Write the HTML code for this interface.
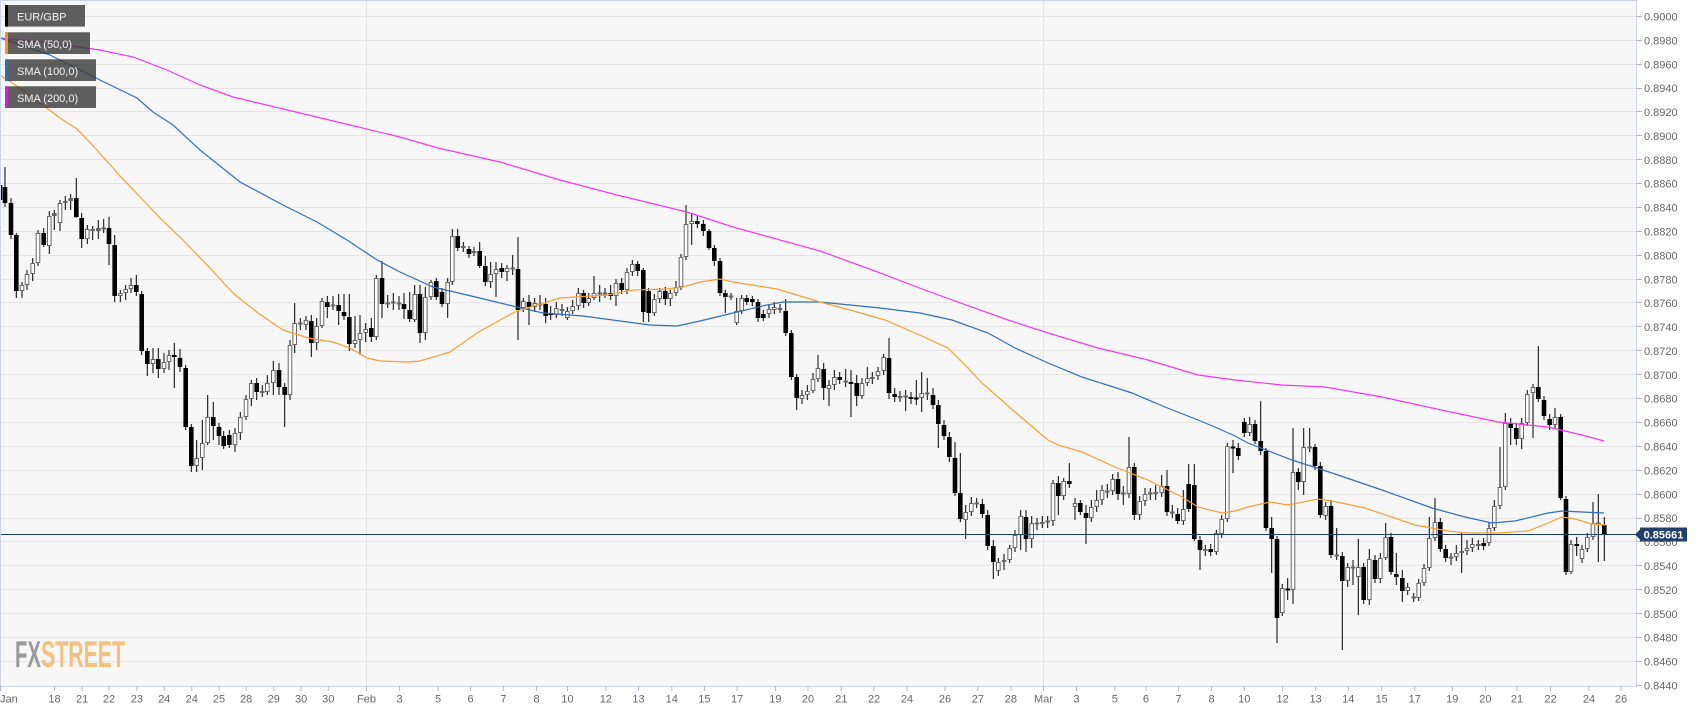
<!DOCTYPE html>
<html><head><meta charset="utf-8"><style>
html,body{margin:0;padding:0;background:#fff;}
svg{display:block;font-family:"Liberation Sans",Arial,sans-serif;}
</style></head><body>
<svg width="1707" height="712" viewBox="0 0 1707 712" xmlns="http://www.w3.org/2000/svg">
<defs><clipPath id="pc"><rect x="0" y="0" width="1636" height="686"/></clipPath></defs>
<rect x="0" y="0" width="1707" height="712" fill="#fff"/>
<rect x="0" y="0" width="1636" height="686" fill="#f7f7f7"/>
<path stroke="#e4e4e4" stroke-width="1" fill="none" d="M0 16.5H1636M0 40.5H1636M0 64.5H1636M0 88.5H1636M0 111.5H1636M0 135.5H1636M0 159.5H1636M0 183.5H1636M0 207.5H1636M0 231.5H1636M0 255.5H1636M0 279.5H1636M0 302.5H1636M0 326.5H1636M0 350.5H1636M0 374.5H1636M0 398.5H1636M0 422.5H1636M0 446.5H1636M0 470.5H1636M0 494.5H1636M0 518.5H1636M0 541.5H1636M0 565.5H1636M0 589.5H1636M0 613.5H1636M0 637.5H1636M0 661.5H1636M366.5 0V686M1043.5 0V686"/>
<text x="15" y="667" font-size="37" font-weight="bold" font-family="'Liberation Sans Narrow','Liberation Sans',sans-serif" textLength="26" lengthAdjust="spacingAndGlyphs" fill="#9a9a9a">FX</text>
<text x="41" y="667" font-size="37" font-weight="bold" font-family="'Liberation Sans Narrow','Liberation Sans',sans-serif" textLength="84" lengthAdjust="spacingAndGlyphs" fill="#f2c17f">STREET</text>
<g clip-path="url(#pc)">
<path stroke="#000" stroke-width="1" fill="none" d="M0 180V205M5 167V207M11 198V239M16.3 233V298M22 282V298M27 270V290M32.7 258V281M38 230V266M43.7 228V247M49.3 211V254M54.3 210V230M60 200V231M65.3 196V210M70.7 194V210M76.3 178V218M81.7 213V248M87.3 225V244M92.7 226V240M98.3 220V239M103.7 219V233M109 217V265M114.7 235V302M120.3 290V302M125.7 285V300M131 278V293M136.3 275V296M141.7 291V355M147.3 348V376M153 348V373M158.3 348V378M164 353V373M169 350V370M174.3 343V388M180 349V372M185.7 365V430M191.3 424V472M196.7 440V472M202.3 420V470M207.7 395V445M213.3 402V440M219 423V445M223.7 431V449M229.3 430V448M235 428V452M240.3 412V440M246 395V420M251.3 380V406M256.7 378V400M262.3 385V397M267.3 375V395M273.3 361V395M279 363V395M284.7 383V427M290 340V400M294.7 303V353M300.3 318V330M306 316V330M311.3 315V357M316.7 318V350M322 298V328M327.3 296V318M333 296V310M338.7 294V325M344 294V320M349.3 294V351M355 316V348M360 315V355M365.7 323V342M371.3 318V342M376.3 275V340M382 261V318M387.7 295V308M393.3 293V310M399 296V310M404 293V319M409.7 292V322M414.7 285V322M420 285V343M425.3 287V340M431 280V300M436.3 278V300M442 288V307M447.7 278V318M452.3 229V285M457.7 229V251M463.3 242V252M469 246V258M474 247V256M479.7 242V268M485.3 256V286M490.7 262V288M496 262V297M501.7 263V278M507 265V281M512.7 255V275M518 237V340M523.3 298V312M529 295V325M534.7 298V312M540 295V310M545.7 298V323M550.7 306V320M556.3 302V318M562 304V316M567.3 307V320M572.7 300V314M578.3 288V310M583.7 290V308M588.7 293V306M594 276V300M599.7 285V302M605 288V298M610.7 285V300M616 279V306M621.7 278V294M627 268V294M632.3 260V276M637.7 261V276M643.3 268V322M648.7 288V322M654.3 294V316M659.7 288V303M665.3 287V305M670.3 290V306M676 281V296M681 254V290M686 205V260M691.7 214V245M697.3 215V228M703.3 220V236M709 229V250M714.3 245V266M720 258V296M725.3 290V313M731 293V300M736.7 298V325M741.7 295V314M746.7 295V305M752.3 296V306M758 299V322M763.3 310V321M769 305V318M774.3 302V314M780 304V313M785.7 299V336M791.3 330V380M796.7 374V410M802 390V404M807.3 385V400M813 373V393M818 355V382M823.7 363V400M829 380V406M834.3 370V390M839.7 372V384M845.7 369V387M851 370V417M856.7 375V406M862 378V399M867.3 367V386M872.3 372V384M878 367V380M883.7 354V375M889 338V399M894.7 388V402M900 391V402M905.7 390V411M911 392V404M916.3 380V405M921.7 372V412M927.3 378V400M933 388V409M938.3 400V448M944 420V440M949.3 432V462M955 442V496M960.3 453V522M965.7 505V539M971.3 497V516M976.7 498V508M982.3 499V518M987.7 510V550M993.3 540V579M998.3 558V576M1004 554V570M1009.7 545V563M1015 530V552M1020.7 510V550M1026 510V552M1031.7 516V548M1037 518V530M1042.3 516V528M1047.7 516V528M1053 480V526M1058.3 476V515M1063.7 478V500M1069.3 463V488M1075 498V520M1080.3 500V515M1086 505V544M1091.3 500V522M1096.7 490V512M1102 485V505M1107.3 484V498M1112.7 474V495M1118 472V500M1123.3 486V505M1129 437V498M1134.3 463V520M1139.7 496V520M1145 488V506M1150.3 488V500M1155.7 485V500M1161.7 475V497M1167 470V516M1172.3 505V518M1177.7 508V524M1183.3 490V525M1188.7 464V512M1194.3 464V541M1200 536V570M1205.3 545V556M1210.7 544V556M1216.3 530V555M1221.7 515V538M1227.3 443V522M1233 440V473M1238.3 443V460M1244.3 418V437M1249.7 417V436M1255 420V444M1260.7 401V455M1266 448V531M1271.7 517V573M1277 536V643M1282.3 584V616M1287.7 578V600M1293 428V604M1298.3 468V490M1303.7 428V495M1309.7 428V452M1315 444V470M1320.3 462V518M1325.7 502V520M1331 500V558M1336.7 528V560M1342.3 552V650M1347.7 563V587M1353 560V585M1358.3 539V615M1363.7 563V604M1369.3 549V605M1375 555V583M1380.3 553V583M1385.7 523V560M1391 533V575M1396.3 553V585M1402.3 570V602M1407.7 583V595M1413.7 593V602M1418.7 579V601M1424 564V586M1429.3 517V571M1435 498V541M1440.3 518V552M1445.7 545V562M1451 553V565M1456.3 545V561M1461.7 533V573M1467 540V555M1472.3 538V552M1478.3 540V550M1483.7 538V550M1489 522V546M1494.3 500V531M1500 447V509M1505.3 413V490M1510.7 418V445M1516.3 423V445M1521.7 418V449M1527.3 390V426M1533 384V438M1538.3 346V402M1544 396V420M1549.7 414V430M1555 408V428M1560.7 414V500M1566 496V575M1571 540V574M1576.7 537V556M1582 545V563M1587.3 533V552M1593 502V540M1598.3 494V562M1604.3 517V561"/>
<path stroke="#000" stroke-width="4.6" fill="none" d="M0 185V200M5 187V203M11 203V235M16.3 235V291M43.7 233V245M76.3 198V217M81.7 218V239M109 228V244M114.7 245V296M136.3 285V292M141.7 294V351M147.3 351V364M158.3 359V369M174.3 355V357M180 358V367M185.7 368V427M191.3 427V466M213.3 417V426M219 427V436M223.7 436V446M229.3 435V445M256.7 383V392M279 370V387M284.7 387V395M311.3 321V343M327.3 302V307M338.7 305V311M344 312V316M349.3 317V344M371.3 328V337M382 278V304M404 304V309M409.7 310V319M420 294V333M436.3 281V297M442 292V304M457.7 236V248M469 249V254M479.7 251V266M485.3 266V282M501.7 268V272M518 269V310M529 302V307M545.7 304V316M550.7 313V315M583.7 293V303M610.7 293V296M621.7 283V290M637.7 264V271M643.3 270V312M648.7 291V313M665.3 291V299M697.3 221V224M703.3 224V231M709 231V248M714.3 248V261M720 261V293M725.3 293V297M746.7 298V302M752.3 299V302M758 302V318M763.3 314V318M785.7 311V333M791.3 333V377M796.7 377V398M823.7 369V388M839.7 377V380M851 382V384M856.7 383V396M889 358V393M894.7 394V397M911 397V399M916.3 397.5V399.5M933 395V405M938.3 405V424M944 425V436M949.3 437V457M955 458V493M960.3 493V519M982.3 504V514M987.7 515V546M993.3 546V562M1026 517V539M1058.3 483V496M1069.3 481V484M1080.3 503V512M1086 513V518M1118 479V494M1134.3 467V515M1167 486V512M1177.7 514V521M1188.7 484V509M1194.3 485V539M1200 540V550M1210.7 549V552M1233 446.5V448.5M1238.3 448V456M1244.3 422V433M1255 424V441M1260.7 441V451M1266 451V528M1271.7 528V539M1277 539V618M1287.7 588.5V590.5M1298.3 472V482M1315 447V466M1320.3 466V515M1331 506V555M1342.3 556V581M1363.7 567V600M1375 560V579M1391 537V572M1396.3 574V577M1402.3 578V591M1440.3 522V549M1445.7 549V558M1483.7 543V546M1510.7 423V428M1516.3 428V439M1538.3 387V399M1544 400V416M1549.7 419V425M1560.7 417V498M1566 499V572M1576.7 544V546M1604.3 525V534"/>
<path stroke="#666" stroke-width="4.6" fill="none" d="M22 285V291M27 274V285M32.7 263V274M38 233V263M49.3 216V246M54.3 213V216M60 203V223M65.3 201V203M70.7 198V201M87.3 229V239M92.7 229V231M98.3 228V231M103.7 227.5V229.5M120.3 293V296M125.7 289V293M131 285V289M153 359V364M164 362V369M169 355V362M196.7 458V466M202.3 443V458M207.7 417V443M235 433V445M240.3 417V433M246 399V417M251.3 383V399M262.3 391V393M267.3 383V392M273.3 370V383M290 345V395M294.7 323V345M300.3 322.5V324.5M306 320V325M316.7 326V343M322 301V326M333 304.5V306.5M355 340V344M360 333V340M365.7 329V333M376.3 278V337M387.7 302.5V304.5M393.3 301.5V303.5M399 302.5V304.5M414.7 294V320M425.3 297V333M431 282V297M447.7 282V304M452.3 236V282M463.3 246V248M474 251V253M490.7 274V282M496 269V274M507 268V272M512.7 267.5V269.5M523.3 301V308M534.7 303V307M540 303.5V305.5M556.3 308V315M562 309V311M567.3 311V318M572.7 306V311M578.3 293V306M588.7 298V303M594 293V298M599.7 292.5V294.5M605 292.5V294.5M616 283V296M627 272V290M632.3 264V272M654.3 299V313M659.7 291V299M670.3 293V299M676 287V293M681 257V287M686 224V257M691.7 221V224M731 295.5V297.5M736.7 311V323M741.7 298V311M769 309V314M774.3 307V310M780 308V310M802 395V399M807.3 391V395M813 379V391M818 368V379M829 385V389M834.3 377V385M845.7 380.5V382.5M862 383V396M867.3 378V383M872.3 377V379M878 371V376M883.7 357V371M900 396V398M905.7 395.5V397.5M921.7 393V398M927.3 392.5V394.5M965.7 512V520M971.3 503V512M976.7 502.5V504.5M998.3 562V571M1004 560V562M1009.7 548V560M1015 535V548M1020.7 516V535M1031.7 523V539M1037 522.5V524.5M1042.3 522V524M1047.7 520.5V522.5M1053 483V521M1063.7 481V496M1075 503V507M1091.3 507V518M1096.7 500V507M1102 490V500M1107.3 490.5V492.5M1112.7 479V491M1123.3 492.5V494.5M1129 467V494M1139.7 501V515M1145 494V501M1150.3 492.5V494.5M1155.7 492V494M1161.7 486V493M1172.3 511.5V513.5M1183.3 509V521M1205.3 549V551M1216.3 533V552M1221.7 519V534M1227.3 446V519M1249.7 424V433M1282.3 588V613M1293 472V590M1303.7 447V482M1309.7 446.5V448.5M1325.7 506V516M1336.7 554.5V556.5M1347.7 567V581M1353 566.5V568.5M1358.3 567V577M1369.3 559V600M1380.3 558V579M1385.7 537V558M1407.7 587V591M1413.7 596.5V598.5M1418.7 583V598M1424 568V583M1429.3 538V568M1435 522V538M1451 556.5V558.5M1456.3 553V557M1461.7 551V553M1467 548V551M1472.3 544V548M1478.3 544V546M1489 528V543M1494.3 506V528M1500 487V506M1505.3 423V487M1521.7 423V439M1527.3 394V423M1533 387V393M1555 417V425M1571 544V572M1582 549V559M1587.3 537V549M1593 523V537M1598.3 522.5V524.5"/>
<path stroke="#fff" stroke-width="2.6" fill="none" d="M22 286V290M27 275V284M32.7 264V273M38 234V262M49.3 217V245M60 204V222M87.3 230V238M120.3 294V295M125.7 290V292M131 286V288M153 360V363M164 363V368M169 356V361M196.7 459V465M202.3 444V457M207.7 418V442M235 434V444M240.3 418V432M246 400V416M251.3 384V398M267.3 384V391M273.3 371V382M290 346V394M294.7 324V344M306 321V324M316.7 327V342M322 302V325M355 341V343M360 334V339M365.7 330V332M376.3 279V336M414.7 295V319M425.3 298V332M431 283V296M447.7 283V303M452.3 237V281M490.7 275V281M496 270V273M507 269V271M523.3 302V307M534.7 304V306M556.3 309V314M567.3 312V317M572.7 307V310M578.3 294V305M588.7 299V302M594 294V297M616 284V295M627 273V289M632.3 265V271M654.3 300V312M659.7 292V298M670.3 294V298M676 288V292M681 258V286M686 225V256M691.7 222V223M736.7 312V322M741.7 299V310M769 310V313M774.3 308V309M802 396V398M807.3 392V394M813 380V390M818 369V378M829 386V388M834.3 378V384M862 384V395M867.3 379V382M878 372V375M883.7 358V370M921.7 394V397M965.7 513V519M971.3 504V511M998.3 563V570M1009.7 549V559M1015 536V547M1020.7 517V534M1031.7 524V538M1053 484V520M1063.7 482V495M1075 504V506M1091.3 508V517M1096.7 501V506M1102 491V499M1112.7 480V490M1129 468V493M1139.7 502V514M1145 495V500M1161.7 487V492M1183.3 510V520M1216.3 534V551M1221.7 520V533M1227.3 447V518M1249.7 425V432M1282.3 589V612M1293 473V589M1303.7 448V481M1325.7 507V515M1347.7 568V580M1358.3 568V576M1369.3 560V599M1380.3 559V578M1385.7 538V557M1407.7 588V590M1418.7 584V597M1424 569V582M1429.3 539V567M1435 523V537M1456.3 554V556M1467 549V550M1472.3 545V547M1489 529V542M1494.3 507V527M1500 488V505M1505.3 424V486M1521.7 424V438M1527.3 395V422M1533 388V392M1555 418V424M1571 545V571M1582 550V558M1587.3 538V548M1593 524V536"/>
<polyline fill="none" stroke="#f535f5" stroke-width="1.2" points="0,38 50,43 100,50 133,57 167,70 200,85 233,97 300,113 350,125 400,137 438,148 500,162 560,180 617,195 687,212 733,227 820,251 875,271 930,292 1008,320 1048,333 1098,348 1148,360 1198,375 1235,380 1282,385 1325,387 1382,397 1432,408 1498,422 1548,427 1582,435 1604,441"/>
<polyline fill="none" stroke="#2f6fc0" stroke-width="1.2" points="0,38 50,55 100,80 137,98 153,112 173,125 200,150 240,182 283,205 317,222 347,240 377,260 400,272 433,287 467,295 517,307 543,313 583,316 650,325 677,326 700,321 733,313 767,305 783,302 820,302 880,308 920,313 952,320 988,333 1015,348 1048,363 1082,377 1132,393 1165,407 1198,420 1215,427 1235,436 1248,443 1292,460 1332,473 1382,490 1432,508 1465,517 1492,523 1515,521 1548,513 1562,511 1582,512 1604,513"/>
<polyline fill="none" stroke="#f7a030" stroke-width="1.2" points="0,75 20,88 40,103 60,118 77,129 97,150 120,176 143,200 160,218 183,240 210,268 233,293 258,313 283,330 308,338 333,342 350,348 367,358 380,361 408,362 420,361 450,352 477,333 500,320 517,311 560,298 607,295 633,290 667,289 683,287 700,282 720,279 733,282 777,289 820,302 850,310 885,320 915,333 948,348 965,365 982,383 1015,412 1048,440 1058,445 1082,452 1115,467 1148,480 1182,497 1198,507 1222,513 1235,511 1248,507 1270,502 1288,505 1318,499 1332,501 1365,508 1415,525 1448,531 1468,533 1498,533 1528,531 1548,523 1562,517 1575,519 1592,524 1605,525"/>
<path stroke="#1f3d6b" stroke-width="1" d="M0 534.5H1636"/>
</g>
<path stroke="#ccd6eb" stroke-width="1" fill="none" d="M0.5 0V686M0 0.5H1636M1636.5 0V686M0 686.5H1637"/>
<path stroke="#b0b8c8" stroke-width="1" fill="none" d="M1636 16.5H1642M1636 40.5H1642M1636 64.5H1642M1636 88.5H1642M1636 111.5H1642M1636 135.5H1642M1636 159.5H1642M1636 183.5H1642M1636 207.5H1642M1636 231.5H1642M1636 255.5H1642M1636 279.5H1642M1636 302.5H1642M1636 326.5H1642M1636 350.5H1642M1636 374.5H1642M1636 398.5H1642M1636 422.5H1642M1636 446.5H1642M1636 470.5H1642M1636 494.5H1642M1636 518.5H1642M1636 541.5H1642M1636 565.5H1642M1636 589.5H1642M1636 613.5H1642M1636 637.5H1642M1636 661.5H1642M1636 685.5H1642"/>
<path stroke="#b0b8c8" stroke-width="1" fill="none" d="M0.5 686V691M54.5 686V691M82.1 686V691M109 686V691M136.9 686V691M164.2 686V691M191.8 686V691M219 686V691M246.2 686V691M273.8 686V691M301.1 686V691M328.3 686V691M366.5 686V691M399.6 686V691M438 686V691M470.6 686V691M503.6 686V691M536.6 686V691M567.5 686V691M605.9 686V691M638.5 686V691M671.8 686V691M704.4 686V691M737.1 686V691M775.4 686V691M808 686V691M841.4 686V691M874 686V691M907 686V691M945 686V691M977.9 686V691M1010.9 686V691M1043.5 686V691M1076.5 686V691M1114.8 686V691M1145.9 686V691M1178.6 686V691M1211.6 686V691M1244.3 686V691M1282.6 686V691M1315.6 686V691M1348.3 686V691M1381.7 686V691M1414.8 686V691M1452.3 686V691M1485.4 686V691M1517 686V691M1550.5 686V691M1589 686V691M1621 686V691"/>
<g font-size="11" fill="#666">
<text x="1644" y="20.5">0.9000</text><text x="1644" y="44.4">0.8980</text><text x="1644" y="68.3">0.8960</text><text x="1644" y="92.2">0.8940</text><text x="1644" y="116.1">0.8920</text><text x="1644" y="140">0.8900</text><text x="1644" y="163.8">0.8880</text><text x="1644" y="187.7">0.8860</text><text x="1644" y="211.6">0.8840</text><text x="1644" y="235.5">0.8820</text><text x="1644" y="259.4">0.8800</text><text x="1644" y="283.3">0.8780</text><text x="1644" y="307.2">0.8760</text><text x="1644" y="331.1">0.8740</text><text x="1644" y="355">0.8720</text><text x="1644" y="378.9">0.8700</text><text x="1644" y="402.7">0.8680</text><text x="1644" y="426.6">0.8660</text><text x="1644" y="450.5">0.8640</text><text x="1644" y="474.4">0.8620</text><text x="1644" y="498.3">0.8600</text><text x="1644" y="522.2">0.8580</text><text x="1644" y="546.1">0.8560</text><text x="1644" y="570">0.8540</text><text x="1644" y="593.9">0.8520</text><text x="1644" y="617.8">0.8500</text><text x="1644" y="641.6">0.8480</text><text x="1644" y="665.5">0.8460</text><text x="1644" y="689.4">0.8440</text>
</g>
<g font-size="11" fill="#666" text-anchor="middle">
<text x="0" y="702.5" text-anchor="start">Jan</text><text x="54.5" y="702.5">18</text><text x="82.1" y="702.5">21</text><text x="109" y="702.5">22</text><text x="136.9" y="702.5">23</text><text x="164.2" y="702.5">24</text><text x="191.8" y="702.5">24</text><text x="219" y="702.5">25</text><text x="246.2" y="702.5">28</text><text x="273.8" y="702.5">29</text><text x="301.1" y="702.5">30</text><text x="328.3" y="702.5">30</text><text x="366.5" y="702.5">Feb</text><text x="399.6" y="702.5">3</text><text x="438" y="702.5">5</text><text x="470.6" y="702.5">6</text><text x="503.6" y="702.5">7</text><text x="536.6" y="702.5">8</text><text x="567.5" y="702.5">10</text><text x="605.9" y="702.5">12</text><text x="638.5" y="702.5">13</text><text x="671.8" y="702.5">14</text><text x="704.4" y="702.5">15</text><text x="737.1" y="702.5">17</text><text x="775.4" y="702.5">19</text><text x="808" y="702.5">20</text><text x="841.4" y="702.5">21</text><text x="874" y="702.5">22</text><text x="907" y="702.5">24</text><text x="945" y="702.5">26</text><text x="977.9" y="702.5">27</text><text x="1010.9" y="702.5">28</text><text x="1043.5" y="702.5">Mar</text><text x="1076.5" y="702.5">3</text><text x="1114.8" y="702.5">5</text><text x="1145.9" y="702.5">6</text><text x="1178.6" y="702.5">7</text><text x="1211.6" y="702.5">8</text><text x="1244.3" y="702.5">10</text><text x="1282.6" y="702.5">12</text><text x="1315.6" y="702.5">13</text><text x="1348.3" y="702.5">14</text><text x="1381.7" y="702.5">15</text><text x="1414.8" y="702.5">17</text><text x="1452.3" y="702.5">19</text><text x="1485.4" y="702.5">20</text><text x="1517" y="702.5">21</text><text x="1550.5" y="702.5">22</text><text x="1589" y="702.5">24</text><text x="1621" y="702.5">26</text>
</g>
<path fill="#22406a" d="M1635 534.5L1640 529.5V527.5H1687V541.5H1640V539.5Z"/>
<text x="1663.5" y="538.6" font-size="11" font-weight="bold" fill="#fff" text-anchor="middle">0.85661</text>
<g>
<rect x="5" y="5" width="80" height="21.6" fill="rgb(60,60,60)" fill-opacity="0.82"/>
<rect x="5" y="5" width="3" height="21.6" fill="#000"/>
<text x="17" y="20.6" font-size="11" fill="#f4f4f4">EUR/GBP</text>
<rect x="5" y="32.3" width="85" height="21.7" fill="rgb(60,60,60)" fill-opacity="0.82"/>
<rect x="5" y="32.3" width="3" height="21.7" fill="#f7931e"/>
<text x="17" y="48" font-size="11" fill="#f4f4f4">SMA (50,0)</text>
<rect x="5" y="59.3" width="91" height="21.7" fill="rgb(60,60,60)" fill-opacity="0.82"/>
<rect x="5" y="59.3" width="3" height="21.7" fill="#2b6cc4"/>
<text x="17" y="75" font-size="11" fill="#f4f4f4">SMA (100,0)</text>
<rect x="5" y="86.3" width="91" height="21.7" fill="rgb(60,60,60)" fill-opacity="0.82"/>
<rect x="5" y="86.3" width="3" height="21.7" fill="#ff00ff"/>
<text x="17" y="102" font-size="11" fill="#f4f4f4">SMA (200,0)</text>
</g>
</svg>
</body></html>
